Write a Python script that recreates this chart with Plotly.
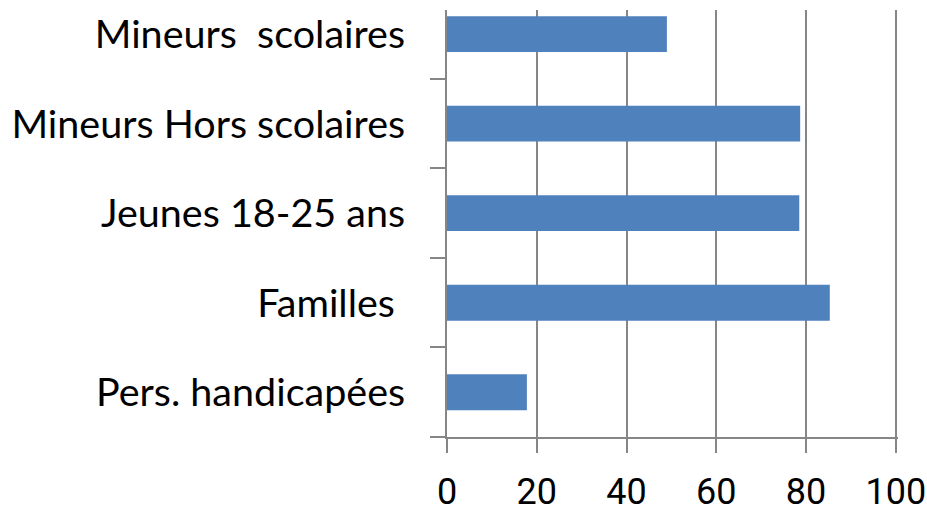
import plotly.graph_objects as go

categories = ["Pers. handicapées", "Familles\u00a0", "Jeunes 18-25 ans",
              "Mineurs Hors scolaires", "Mineurs\u00a0 scolaires"]
values = [17.8, 85.3, 78.5, 78.7, 49.0]
x_ticks = [0, 20, 40, 60, 80, 100]

fig = go.Figure(go.Bar(
    y=categories, x=values, orientation="h",
    marker=dict(color="#4F81BD", line=dict(width=0)),
))

fig.update_layout(
    width=927, height=512,
    margin=dict(l=447, r=29, t=10, b=75, autoexpand=False),
    paper_bgcolor="white", plot_bgcolor="white",
    bargap=0.6, showlegend=False,
    font=dict(family="Lato", size=38, color="black"),
)
fig.update_xaxes(
    range=[0, 100.5], tickvals=x_ticks, showgrid=True, gridcolor="#868686", gridwidth=1.5,
    zeroline=False, showline=True, linecolor="#868686", linewidth=1.5,
    ticks="outside", ticklen=14, tickcolor="#868686", tickwidth=1.5,
    tickfont=dict(family="Roboto", size=36), fixedrange=True, automargin=False,
    ticklabeloverflow="allow", ticklabelstandoff=8,
)
fig.update_yaxes(
    type="category", range=[-0.5, 4.27], tickson="boundaries",
    showgrid=False, zeroline=False, showline=True, linecolor="#868686", linewidth=2,
    ticks="outside", ticklen=15, tickcolor="#868686", tickwidth=1.5,
    ticklabelstandoff=32, tickfont=dict(size=39.5), fixedrange=True, automargin=False,
)

fig.write_html("out.html",
               config={"displayModeBar": False},
               post_script="document.body.style.margin='0';document.body.style.overflow='hidden';")
